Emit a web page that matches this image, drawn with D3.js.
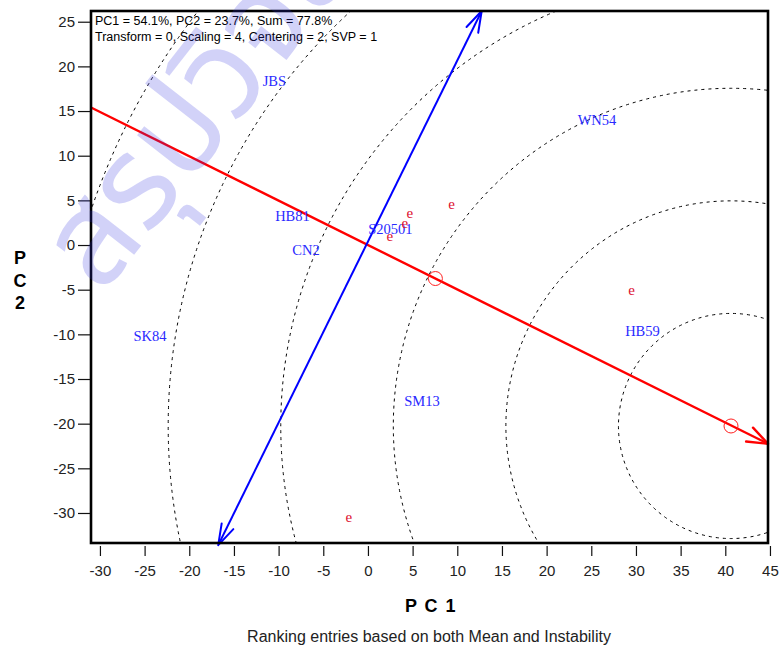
<!DOCTYPE html>
<html>
<head>
<meta charset="utf-8">
<script src="https://cdn.jsdelivr.net/npm/d3@7"></script>
<style>
  body { margin: 0; background: #fff; }
  svg { display: block; }
  text { font-family: Arial, "Liberation Sans", sans-serif; }
</style>
</head>
<body>
<svg id="chart" width="779" height="647"></svg>
<script>
// ---------------- DATA ----------------
const xTicks = [-30, -25, -20, -15, -10, -5, 0, 5, 10, 15, 20, 25, 30, 35, 40, 45];
const yTicks = [-30, -25, -20, -15, -10, -5, 0, 5, 10, 15, 20, 25];
const xDomain = [-31.0, 44.78];
const yDomain = [-33.36, 26.2];

// genotypes (blue labels)
const genotypes = ["JBS", "WN54", "HB81", "S20501", "CN2", "SK84", "HB59", "SM13"];
const genoPC1 = [-10.47, 25.64, -8.45, 2.52, -6.94, -24.40, 30.73, 6.04];
const genoPC2 = [18.36, 13.99, 3.25, 1.79, -0.50, -10.19, -9.63, -17.46];

// environments (red labels)
const envLabels = ["e", "e", "e", "e", "e", "e"];
const envPC1 = [4.70, 4.14, 2.46, 9.37, 29.52, -2.13];
const envPC2 = [3.55, 2.43, 0.93, 4.59, -5.12, -30.48];

// average environment point & ideal genotype point
const avgEnv = [7.55, -3.75];
const ideal = [40.64, -20.26];
// concentric ring radii around the ideal point (PC units)
const ringRadii = [12.6, 25.2, 37.8, 50.4, 63.0, 75.6];

// average environment axis (red) and its perpendicular (blue), end points
const aeaLine = [[-31.0, 15.4], [44.78, -22.25]];
const perpLine = [[-16.76, -33.6], [12.73, 26.2]];

const infoLines = [
  "PC1 = 54.1%, PC2 = 23.7%, Sum = 77.8%",
  "Transform = 0, Scaling = 4, Centering = 2, SVP = 1"
];
const xTitle = "P C 1";
const yTitleChars = ["P", "C", "2"];
const subtitle = "Ranking entries based on both Mean and Instability";
const watermark = "สรุปวิจัย";

// ---------------- LAYOUT ----------------
const W = 779, H = 647;
const plot = { left: 91, right: 768, top: 11, bottom: 543 };

const svg = d3.select("#chart");
const x = d3.scaleLinear().domain(xDomain).range([plot.left, plot.right]);
const y = d3.scaleLinear().domain(yDomain).range([plot.bottom, plot.top]);

svg.append("defs").append("clipPath").attr("id", "clip")
  .append("rect")
  .attr("x", plot.left).attr("y", plot.top)
  .attr("width", plot.right - plot.left).attr("height", plot.bottom - plot.top);

const g = svg.append("g").attr("clip-path", "url(#clip)");

// dashed rings
g.selectAll("circle.ring").data(ringRadii).join("circle")
  .attr("class", "ring")
  .attr("cx", x(ideal[0])).attr("cy", y(ideal[1]))
  .attr("r", d => x(d) - x(0))
  .attr("fill", "none").attr("stroke", "#000").attr("stroke-width", 1)
  .attr("stroke-dasharray", "3,4");

// lines
const line = d3.line().x(d => x(d[0])).y(d => y(d[1]));
g.append("path").datum(aeaLine).attr("d", line)
  .attr("stroke", "#ff0000").attr("stroke-width", 2.4).attr("fill", "none");
g.append("path").datum(perpLine).attr("d", line)
  .attr("stroke", "#0000ff").attr("stroke-width", 2).attr("fill", "none");

function arrowHead(from, to, color, len, ang, sw) {
  const x1 = x(from[0]), y1 = y(from[1]), x2 = x(to[0]), y2 = y(to[1]);
  const a = Math.atan2(y2 - y1, x2 - x1);
  const p = d3.path();
  [ang, -ang].forEach(t => {
    p.moveTo(x2, y2);
    p.lineTo(x2 - len * Math.cos(a + t), y2 - len * Math.sin(a + t));
  });
  svg.append("path").attr("d", p.toString())
    .attr("stroke", color).attr("stroke-width", sw).attr("fill", "none")
    .attr("stroke-linecap", "round");
}
arrowHead(aeaLine[0], aeaLine[1], "#ff0000", 22, 0.36, 2.4);
arrowHead(perpLine[0], perpLine[1], "#0000ff", 22, 0.3, 2);
arrowHead(perpLine[1], perpLine[0], "#0000ff", 22, 0.3, 2);

// markers
[avgEnv, ideal].forEach(p => {
  svg.append("circle").attr("cx", x(p[0])).attr("cy", y(p[1])).attr("r", 7)
    .attr("fill", "none").attr("stroke", "#ff2020").attr("stroke-width", 1);
});

// genotype labels
svg.selectAll("text.geno").data(genotypes).join("text")
  .attr("class", "geno")
  .attr("x", (d, i) => x(genoPC1[i])).attr("y", (d, i) => y(genoPC2[i]))
  .attr("text-anchor", "middle").attr("dy", "0.35em")
  .style("font-family", "'Liberation Serif', 'Times New Roman', serif")
  .style("font-size", "14.5px").attr("fill", "#2a2aff")
  .text(d => d);

// environment labels
svg.selectAll("text.env").data(envLabels).join("text")
  .attr("class", "env")
  .attr("x", (d, i) => x(envPC1[i])).attr("y", (d, i) => y(envPC2[i]))
  .attr("text-anchor", "middle").attr("dy", "0.3em")
  .style("font-family", "'Liberation Serif', 'Times New Roman', serif")
  .style("font-size", "15px").attr("fill", "#dd1030")
  .text(d => d);

// info text
svg.selectAll("text.info").data(infoLines).join("text")
  .attr("class", "info")
  .attr("x", 95).attr("y", (d, i) => 25 + i * 16)
  .style("font-size", "12.5px").attr("fill", "#000")
  .text(d => d);

// frame
svg.append("rect")
  .attr("x", plot.left).attr("y", plot.top)
  .attr("width", plot.right - plot.left).attr("height", plot.bottom - plot.top)
  .attr("fill", "none").attr("stroke", "#000").attr("stroke-width", 2.6);

// axes
const xAxis = svg.append("g").attr("transform", `translate(0,${plot.bottom + 3})`)
  .call(d3.axisBottom(x).tickValues(xTicks).tickSize(10).tickPadding(9).tickFormat(d3.format("d")));
const yAxis = svg.append("g").attr("transform", `translate(${plot.left - 1},0)`)
  .call(d3.axisLeft(y).tickValues(yTicks).tickSize(12).tickPadding(3).tickFormat(d3.format("d")));
[xAxis, yAxis].forEach(a => {
  a.select(".domain").remove();
  a.selectAll(".tick line").attr("stroke", "#111").attr("stroke-width", 1.2);
  a.selectAll(".tick text").style("font-family", "Arial, 'Liberation Sans', sans-serif")
    .style("font-size", "15px").attr("fill", "#222");
});
// use ASCII hyphen-minus for negatives
svg.selectAll(".tick text").text(d => String(d));

// titles
svg.append("text").attr("x", 431).attr("y", 612).attr("text-anchor", "middle")
  .style("font-size", "18px").style("font-weight", "bold").style("letter-spacing", "1.5px")
  .attr("fill", "#000")
  .text(xTitle);
svg.selectAll("text.ytitle").data(yTitleChars).join("text")
  .attr("class", "ytitle")
  .attr("x", 20).attr("y", (d, i) => 264 + i * 22.5).attr("text-anchor", "middle")
  .style("font-size", "18px").style("font-weight", "bold").attr("fill", "#000")
  .text(d => d);
svg.append("text").attr("x", 429).attr("y", 642).attr("text-anchor", "middle")
  .style("font-size", "16px").attr("fill", "#222")
  .text(subtitle);

// watermark
svg.append("text")
  .attr("transform", "translate(102,296) rotate(-52)")
  .style("font-family", "'Noto Sans Thai', 'Noto Sans', 'DejaVu Sans', sans-serif")
  .style("font-size", "130px").attr("fill", "#3030e0").attr("fill-opacity", 0.22)
  .text(watermark);
</script>
</body>
</html>
